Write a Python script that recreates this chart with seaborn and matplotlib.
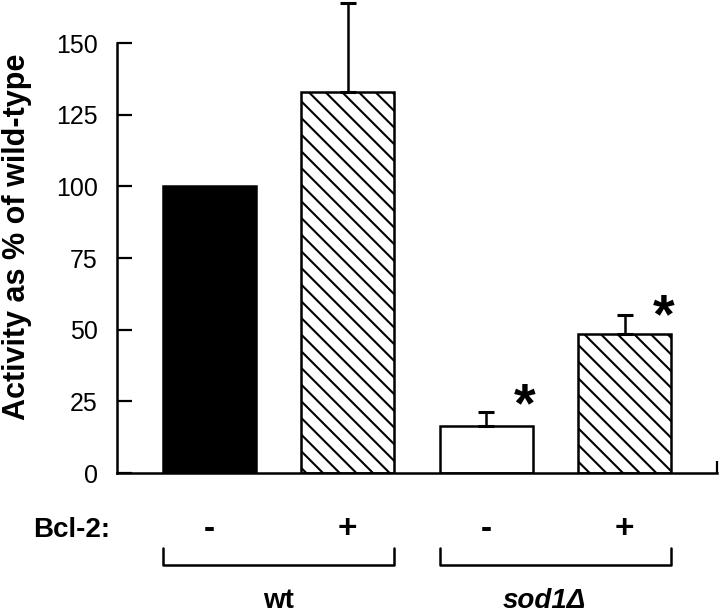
import matplotlib
matplotlib.use('Agg')
import matplotlib.pyplot as plt
import seaborn as sns
import pandas as pd
import numpy as np

# values
conditions = ['wt -', 'wt +', 'sod1 -', 'sod1 +']
activity = [100, 133, 16.4, 48.5]
err_up = [0, 31, 5, 6.6]
bcl2 = ['-', '+', '-', '+']
groups = ['wt', 'sod1Δ']
star_idx = [2, 3]
star_y = [26, 57]

fills = ['black', 'white', 'white', 'white']
hatches = ['', '\\\\', '', '\\\\']

sns.set_style('white')
plt.rcParams['font.family'] = ['Liberation Sans', 'DejaVu Sans']
plt.rcParams['hatch.linewidth'] = 1.5
for k in ['text.color', 'axes.labelcolor', 'xtick.color', 'ytick.color',
          'axes.edgecolor']:
    plt.rcParams[k] = 'black'

df = pd.DataFrame({'cond': conditions, 'activity': activity})

fig = plt.figure(figsize=(7.2, 6.16), dpi=100)
ax = fig.add_axes([0.1625, 0.2321, 0.8333, 0.7679])

sns.barplot(data=df, x='cond', y='activity', hue='cond', palette=fills,
            legend=False, width=0.67, edgecolor='black', linewidth=1.8, ax=ax)
for bar, h in zip(ax.patches, hatches):
    bar.set_hatch(h)

# upper error bars only
pos = np.arange(len(activity))
mask = np.array(err_up) > 0
ax.errorbar(pos[mask], np.array(activity)[mask],
            yerr=[np.zeros(mask.sum()), np.array(err_up)[mask]],
            fmt='none', ecolor='black', elinewidth=1.8, capsize=6, capthick=2.2)

# significance stars
for i, y in zip(star_idx, star_y):
    ax.text(i + 0.28, y - 3, '*', ha='center', va='center', fontsize=40,
            fontweight='bold')

ax.set_xlim(-0.668, 3.668)
ax.set_ylim(0, 165)
ax.set_yticks([0, 25, 50, 75, 100, 125, 150])
ax.tick_params(axis='y', direction='in', length=11, width=1.6, pad=14,
               labelsize=18, left=True)
ax.set_xticks([3.668])
ax.set_xticklabels([''])
ax.tick_params(axis='x', direction='in', length=9, width=1.6, bottom=True)
ax.set_xlabel('')
ax.set_ylabel('Activity as % of wild-type', fontsize=22, fontweight='bold',
              labelpad=17)

sns.despine(ax=ax)
ax.spines['left'].set_bounds(0, 150)
ax.spines['left'].set_linewidth(1.8)
ax.spines['bottom'].set_linewidth(1.8)

# Bcl-2 row
tr = ax.get_xaxis_transform()
ax.text(-0.72, -0.12, 'Bcl-2:', transform=tr, ha='right', va='center',
        fontsize=20, fontweight='bold')
for i, s in enumerate(bcl2):
    ax.text(i, -0.12, s, transform=tr, ha='center', va='center',
            fontsize=24, fontweight='bold')

# group brackets
half = 0.67 / 2
for g, name in enumerate(groups):
    x0 = 2 * g - half
    x1 = 2 * g + 1 + half
    ax.plot([x0, x0, x1, x1], [-0.158, -0.195, -0.195, -0.158], transform=tr,
            color='black', lw=1.8, clip_on=False)
    style = 'italic' if g == 1 else 'normal'
    ax.text(2 * g + 0.5 - 0.08 * g, -0.285, name, transform=tr, ha='center',
            va='baseline', fontsize=20, fontweight='bold', fontstyle=style)

fig.savefig('out.png', dpi=100)
